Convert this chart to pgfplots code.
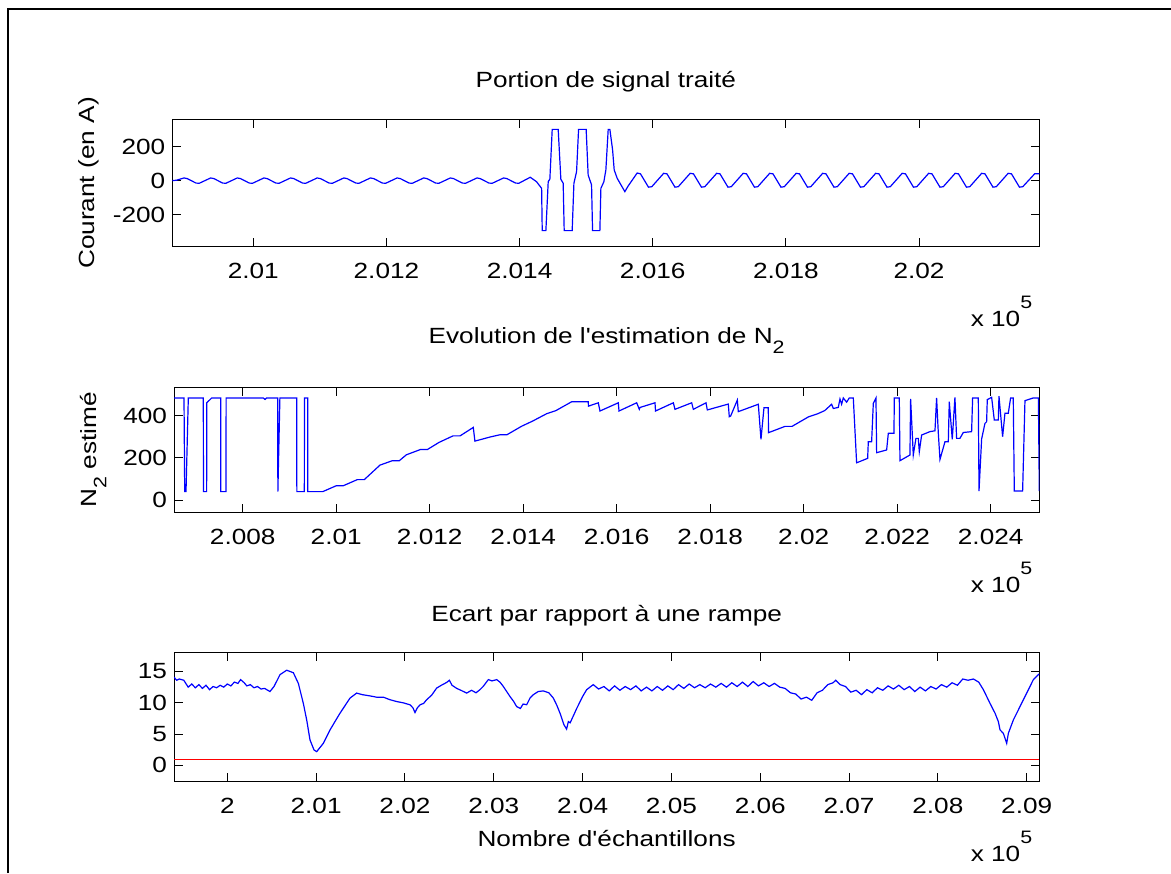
\documentclass[border=0pt]{standalone}
\usepackage{fontspec}
\setmainfont{Liberation Sans}[FakeStretch=1.19, Ligatures=TeXOff]
\usepackage{pgfplots}
\pgfplotsset{compat=1.18}
\newcommand{\subtwo}{\raisebox{-5pt}{\fontsize{9}{9}\selectfont 2}}
\newcommand{\xtenfive}{x 10\raisebox{9.3pt}{\fontsize{9}{9}\selectfont 5}}
\pgfplotsset{
  matlab/.style={
    scale only axis,
    anchor=south west,
    tick align=inside,
    major tick length=4.3pt,
    axis line style={line width=0.5pt, black},
    every tick/.style={black, line width=0.5pt},
    /pgf/number format/assume math mode=true,
    ticklabel style={font=\fontsize{11}{13}\selectfont},
    xticklabel style={yshift=-4.5pt},
    title style={at={(axis description cs:0.5,1)}, anchor=base, font=\fontsize{11}{13}\selectfont},
    ylabel style={at={(axis description cs:-0.0898,0.5)}, anchor=base, font=\fontsize{11}{13}\selectfont},
    xlabel style={at={(axis description cs:0.5,0)}, anchor=base, yshift=-32.5pt, font=\fontsize{11}{13}\selectfont},
    clip mode=individual,
  },
  sig/.style={color={rgb,1:red,0;green,0;blue,1}, line width=0.6pt, no markers},
}
\begin{document}
\begin{tikzpicture}[font=\fontsize{11}{13}\selectfont]
\useasboundingbox (0,0) rectangle (585.5pt,436.5pt);
\draw[line width=1pt] (3.75pt,0pt) -- (3.75pt,431.75pt) -- (585.5pt,431.75pt);

% ---------- Axis 1 ----------
\begin{axis}[matlab, at={(86.15pt,313.15pt)}, width=433.5pt, height=63.7pt,
  xmin=8.784, xmax=21.806, ymin=-386, ymax=359,
  xtick={10,12,14,16,18,20}, xticklabels={2.01,2.012,2.014,2.016,2.018,2.02},
  ytick={-200,0,200}, yticklabels={-200,0,200},
  title={Portion de signal traité}, title style={yshift=10pt},
  ylabel={Courant (en A)}]
\addplot[sig] coordinates {
(8.784,0) (8.85,3)
(8.96,16) (9.01,12) (9.14,-14) (9.19,-15)
(9.36,16) (9.41,12) (9.54,-14) (9.59,-15)
(9.76,16) (9.81,12) (9.94,-14) (9.99,-15)
(10.16,16) (10.21,12) (10.34,-14) (10.39,-15)
(10.56,16) (10.61,12) (10.74,-14) (10.79,-15)
(10.96,16) (11.01,12) (11.14,-14) (11.19,-15)
(11.36,16) (11.41,12) (11.54,-14) (11.59,-15)
(11.76,16) (11.81,12) (11.94,-14) (11.99,-15)
(12.16,16) (12.21,12) (12.34,-14) (12.39,-15)
(12.56,16) (12.61,12) (12.74,-14) (12.79,-15)
(12.96,16) (13.01,12) (13.14,-14) (13.19,-15)
(13.36,16) (13.41,12) (13.54,-14) (13.59,-15)
(13.76,16) (13.81,12) (13.94,-14) (13.99,-15)
(14.16,20) (14.255,-6) (14.331,-45) (14.340,-292) (14.395,-292) (14.430,-6) (14.455,10)
(14.490,300) (14.580,300) (14.620,8) (14.655,-15) (14.670,-292) (14.790,-292) (14.816,-15)
(14.856,53) (14.886,300) (15.000,300) (15.030,33) (15.081,-25) (15.096,-292) (15.206,-292)
(15.221,-45) (15.266,-6) (15.296,63) (15.331,300) (15.356,300) (15.397,180) (15.421,63)
(15.466,14) (15.581,-64) (15.631,-31)
(15.766,45) (15.816,40) (15.936,-38) (15.986,-35)
(16.164,43) (16.214,40) (16.334,-38) (16.384,-35)
(16.562,43) (16.612,40) (16.732,-38) (16.782,-35)
(16.960,43) (17.010,40) (17.130,-38) (17.180,-35)
(17.358,43) (17.408,40) (17.528,-38) (17.578,-35)
(17.756,43) (17.806,40) (17.926,-38) (17.976,-35)
(18.154,43) (18.204,40) (18.324,-38) (18.374,-35)
(18.552,43) (18.602,40) (18.722,-38) (18.772,-35)
(18.950,43) (19.000,40) (19.120,-38) (19.170,-35)
(19.348,43) (19.398,40) (19.518,-38) (19.568,-35)
(19.746,43) (19.796,40) (19.916,-38) (19.966,-35)
(20.144,43) (20.194,40) (20.314,-38) (20.364,-35)
(20.542,43) (20.592,40) (20.712,-38) (20.762,-35)
(20.940,43) (20.990,40) (21.110,-38) (21.160,-35)
(21.338,43) (21.388,40) (21.508,-38) (21.558,-35)
(21.736,40) (21.806,40)
};
\node[anchor=base east] at (rel axis cs:1,0) [yshift=-40pt] {\xtenfive};
\end{axis}

% ---------- Axis 2 ----------
\begin{axis}[matlab, at={(87pt,180.15pt)}, width=432.65pt, height=62.85pt,
  xmin=6.53, xmax=25.04, ymin=-60, ymax=537,
  xtick={8,10,12,14,16,18,20,22,24},
  xticklabels={2.008,2.01,2.012,2.014,2.016,2.018,2.02,2.022,2.024},
  ytick={0,200,400}, yticklabels={0,200,400},
  title={Evolution de l'estimation de N\subtwo}, title style={yshift=16pt},
  ylabel={N\subtwo\ estimé}]
\addplot[sig] coordinates {
(6.53,485) (6.744,485) (6.759,40) (6.787,40) (6.836,485)
(7.157,485) (7.160,40) (7.228,40) (7.231,462) (7.336,485)
(7.529,485) (7.532,40) (7.642,40) (7.645,485)
(8.44,485) (8.477,478) (8.51,485)
(8.748,485) (8.752,40) (8.795,485)
(9.155,485) (9.158,40) (9.318,40) (9.321,485) (9.390,485) (9.393,40) (9.711,40)
(10.0,68) (10.15,68) (10.45,97) (10.6,97) (10.936,166) (11.2,187) (11.35,187) (11.5,215)
(11.8,240) (11.95,240) (12.2,274) (12.5,305) (12.65,305) (12.932,345) (12.967,280)
(13.3,300) (13.5,310) (13.65,310) (13.969,351) (14.2,375) (14.5,410) (14.7,425) (15.037,467) (15.392,467) (15.395,446)
(15.606,462) (15.642,423) (16.034,462) (16.049,423) (16.427,462) (16.483,431)
(16.5,440) (16.819,462) (16.83,423) (17.211,462) (17.247,431) (17.604,462) (17.639,431)
(17.910,462) (17.938,428) (18.387,456) (18.408,396) (18.437,399) (18.580,475) (18.601,420)
(19.029,455) (19.086,288) (19.150,438) (19.243,438) (19.246,320)
(19.6,350) (19.75,350) (20.1,395) (20.3,410) (20.45,425)
(20.597,455) (20.633,435) (20.740,440) (20.776,480) (20.811,455) (20.847,485) (20.918,465)
(20.975,485) (21.061,485) (21.132,177) (21.368,198) (21.382,277) (21.453,277) (21.489,459)
(21.546,485) (21.560,225) (21.774,238) (21.810,317) (21.931,317) (21.938,485) (22.045,485)
(22.059,187) (22.273,214) (22.287,480) (22.344,214) (22.401,293) (22.451,293) (22.473,230)
(22.523,309) (22.701,325) (22.808,329) (22.843,485) (22.879,320) (22.915,193) (23.022,277)
(23.093,277) (23.114,467) (23.178,288) (23.235,488) (23.271,293) (23.342,293) (23.414,321)
(23.592,325) (23.613,485) (23.735,485) (23.75,43) (23.806,290) (23.877,364) (23.913,372)
(23.927,477) (24.020,488) (24.077,380) (24.163,380) (24.177,494) (24.255,301) (24.305,412)
(24.376,412) (24.426,485) (24.483,485) (24.505,43) (24.683,43) (24.733,472) (24.911,485)
(25.02,485) (25.04,43)
};
\node[anchor=base east] at (rel axis cs:1,0) [yshift=-40pt] {\xtenfive};
\end{axis}

% ---------- Axis 3 ----------
\begin{axis}[matlab, at={(87pt,45.65pt)}, width=432.65pt, height=64.5pt,
  xmin=-6.0, xmax=91.42, ymin=-2.6, ymax=18,
  xtick={0,10,20,30,40,50,60,70,80,90},
  xticklabels={2,2.01,2.02,2.03,2.04,2.05,2.06,2.07,2.08,2.09},
  ytick={0,5,10,15}, yticklabels={0,5,10,15},
  title={Ecart par rapport à une rampe}, title style={yshift=9.7pt},
  xlabel={Nombre d'échantillons}]
\addplot[sig] coordinates {
(-6.0,14.1) (-5.7,13.6) (-5.4,13.8) (-4.9,13.6) (-4.4,12.5) (-4.0,13.0) (-3.6,12.4)
(-3.2,12.9) (-2.8,12.3) (-2.4,12.8) (-2.0,12.1) (-1.6,12.6) (-1.2,12.4) (-0.8,12.8)
(-0.4,12.5) (0.0,13.0) (0.4,12.7) (0.8,13.3) (1.2,13.1) (1.5,13.7) (1.9,13.2) (2.2,12.7)
(2.6,12.9) (3.0,12.4) (3.4,12.6) (3.8,12.2) (4.2,12.3) (4.8,11.8) (5.26,12.6)
(5.935,14.5) (6.686,15.2) (7.437,14.8) (8.0,13.1) (8.562,9.9) (8.937,7.27) (9.312,4.07)
(9.763,2.47) (10.063,2.2) (10.814,3.53) (11.564,5.67) (12.69,8.34) (13.816,10.75)
(14.567,11.55) (15.2,11.3) (16.07,11.1) (16.8,10.9) (17.57,10.9) (18.3,10.5) (19.07,10.2)
(19.8,10.0) (20.57,9.68) (20.9,9.2) (21.13,8.45) (21.4,9.2) (21.7,9.68) (22.1,9.9)
(22.45,10.5) (23.0,11.2) (23.57,12.35) (24.1,12.8) (24.7,13.26) (25.0,13.6) (25.3,12.8)
(25.83,12.3) (26.3,12.0) (26.95,11.55) (27.5,12.0) (28.0,11.6) (28.45,12.1) (28.8,12.6)
(29.39,13.7) (29.8,13.5) (30.33,13.7) (30.7,13.3) (31.08,12.6) (31.83,11.0) (32.2,10.3)
(32.58,9.4) (33.0,9.1) (33.3,9.8) (33.71,9.7) (34.1,10.8) (34.46,11.3) (35.0,11.8)
(35.58,11.9) (36.2,11.6) (36.71,10.75) (37.1,9.6) (37.46,8.34) (37.9,6.5) (38.2,5.8)
(38.4,7.0) (38.6,6.8) (39.34,9.1) (40.0,11.0) (40.46,12.1)
(41.2,12.9) (41.8,12.2) (42.4,12.6) (43.0,11.9) (43.6,12.7) (44.2,12.0) (44.8,12.6)
(45.4,12.1) (46.0,12.7) (46.6,11.9) (47.2,12.5) (47.8,11.9) (48.4,12.6) (49.0,12.0)
(49.6,12.7) (50.2,12.1) (50.8,12.9) (51.4,12.3) (52.0,13.0) (52.6,12.4) (53.2,12.9)
(53.8,12.4) (54.4,13.0) (55.0,12.5) (55.6,13.1) (56.2,12.5) (56.8,13.2) (57.4,12.6)
(58.0,13.3) (58.6,12.6) (59.2,13.4) (59.8,12.7) (60.4,13.2) (61.0,12.6) (61.6,13.1)
(62.2,12.5) (62.8,12.3) (63.4,11.6) (64.0,11.4) (64.6,10.6) (65.2,10.9) (65.8,10.4)
(66.4,11.6) (67.0,12.0) (67.6,12.9) (68.2,13.2) (68.5,13.6) (69.0,12.9) (69.6,12.6)
(70.2,11.7) (70.8,12.0) (71.4,11.3) (72.0,12.1) (72.6,11.6) (73.2,12.4) (73.8,12.0)
(74.4,12.7) (75.0,12.2) (75.6,12.8) (76.2,12.1) (76.8,12.6) (77.4,11.8) (78.0,12.5)
(78.6,11.9) (79.2,12.6) (79.8,12.2) (80.4,12.9) (81.0,12.5) (81.6,13.2) (82.2,12.8)
(82.8,13.8) (83.4,13.6) (84.0,13.8) (84.6,13.3) (85.121,12.1) (85.872,9.9) (86.435,8.34)
(86.81,7.0) (86.998,5.67) (87.373,5.13) (87.748,3.53) (87.936,5.13) (88.499,7.27)
(89.25,9.41) (90.0,11.55) (90.751,13.7) (91.314,14.5) (91.42,14.6)
};
\addplot[color=red, line width=0.6pt, no markers] coordinates {(-6.0,1) (91.42,1)};
\node[anchor=base east] at (rel axis cs:1,0) [yshift=-40pt] {\xtenfive};
\end{axis}
\end{tikzpicture}
\end{document}
